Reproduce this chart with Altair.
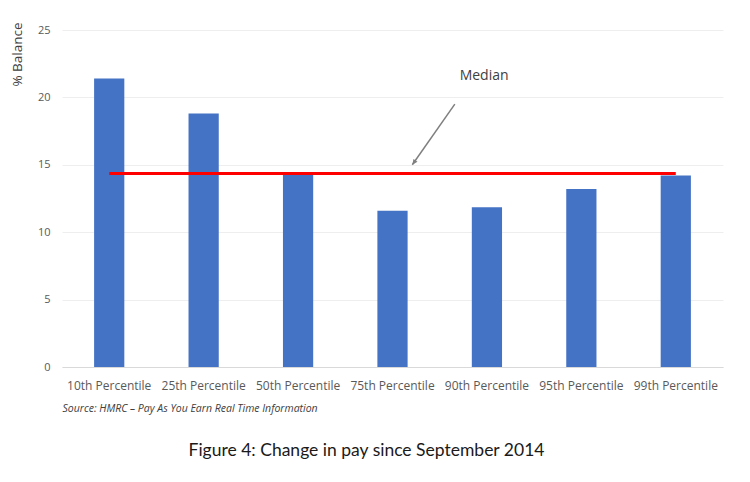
import altair as alt
import pandas as pd

categories = ["10th Percentile", "25th Percentile", "50th Percentile", "75th Percentile",
              "90th Percentile", "95th Percentile", "99th Percentile"]
values = [21.4, 18.8, 14.3, 11.6, 11.85, 13.2, 14.2]
median_value = 14.35

# annotation (in category-index units: i + 0.5 is the centre of category i)
arrow_start = {"x": 4.16, "y": 19.5}
arrow_end = {"x": 3.71, "y": 15.0}
label_pos = {"x": 4.47, "y": 21.6, "text": "Median"}

FONT = "Open Sans"

bars_df = pd.DataFrame({"cat": categories, "val": values})
med_df = pd.DataFrame({"cat": categories, "val": [median_value] * len(categories)})
arrow_df = pd.DataFrame([{"x": arrow_start["x"], "y": arrow_start["y"],
                          "x2": arrow_end["x"], "y2": arrow_end["y"]}])
head_df = pd.DataFrame([{"x": arrow_end["x"], "y": arrow_end["y"]}])
label_df = pd.DataFrame([label_pos])

xscale = alt.Scale(domain=categories, paddingInner=0.68, paddingOuter=0.34)
yscale = alt.Scale(domain=[0, 25])

bars = alt.Chart(bars_df).mark_bar(color="#4472C4").encode(
    x=alt.X("cat:N", scale=xscale, sort=categories,
            title="Source: HMRC \u2013 Pay As You Earn Real Time Information",
            axis=alt.Axis(labelAngle=0, labelFontSize=12, labelColor="#595959",
                          labelPadding=13, ticks=False, domainColor="#D9D9D9",
                          grid=False,
                          titleAnchor="start", titleFontStyle="italic",
                          titleFontWeight="normal", titleFontSize=10.5,
                          titleColor="#404040", titlePadding=12, labelFont=FONT,
                          titleFont=FONT)),
    y=alt.Y("val:Q", scale=yscale, title="% Balance",
            axis=alt.Axis(values=[0, 5, 10, 15, 20, 25], labelFontSize=11,
                          labelColor="#595959", labelPadding=12, ticks=False,
                          domain=False, gridColor="#EEEEEE", titleFontSize=13.5,
                          titleFontWeight="normal", titleColor="#404040",
                          titleX=-45, titleY=24, titleAlign="center",
                          titleBaseline="middle", labelFont=FONT, titleFont=FONT)),
)

median_line = alt.Chart(med_df).mark_line(color="#FF0000", strokeWidth=3).encode(
    x=alt.X("cat:N", scale=xscale, sort=categories),
    y=alt.Y("val:Q", scale=yscale),
)

ann_x = alt.Scale(domain=[0, len(categories)])

shaft = alt.Chart(arrow_df).mark_rule(color="#7F7F7F", strokeWidth=1.5).encode(
    x=alt.X("x:Q", scale=ann_x, axis=None),
    x2="x2:Q",
    y=alt.Y("y:Q", scale=yscale),
    y2="y2:Q",
)

head = alt.Chart(head_df).mark_point(
    shape="M0,0 L-0.45,1 L0.45,1 Z", filled=True, color="#7F7F7F", opacity=1,
    size=120, angle=215,
).encode(
    x=alt.X("x:Q", scale=ann_x, axis=None),
    y=alt.Y("y:Q", scale=yscale),
)

label = alt.Chart(label_df).mark_text(font=FONT, fontSize=14, color="#404040").encode(
    x=alt.X("x:Q", scale=ann_x, axis=None),
    y=alt.Y("y:Q", scale=yscale),
    text="text:N",
)

base = alt.layer(bars, median_line).resolve_scale(y="shared")
chart = alt.layer(base, shaft, head, label).resolve_scale(x="independent").properties(
    width=661, height=337,
    background="white",
    padding={"left": 54, "top": 22, "right": 15, "bottom": 115},
    autosize=alt.AutoSizeParams(type="none"),
    title=alt.TitleParams("Figure 4: Change in pay since September 2014", orient="bottom",
                          anchor="middle", font="Lato", fontSize=17.5, fontWeight="normal",
                          color="#1A1A1A", offset=28, dx=-26),
).configure_view(strokeWidth=0, stroke="transparent")

chart.save("out.html", embed_options={"renderer": "svg", "actions": False})
